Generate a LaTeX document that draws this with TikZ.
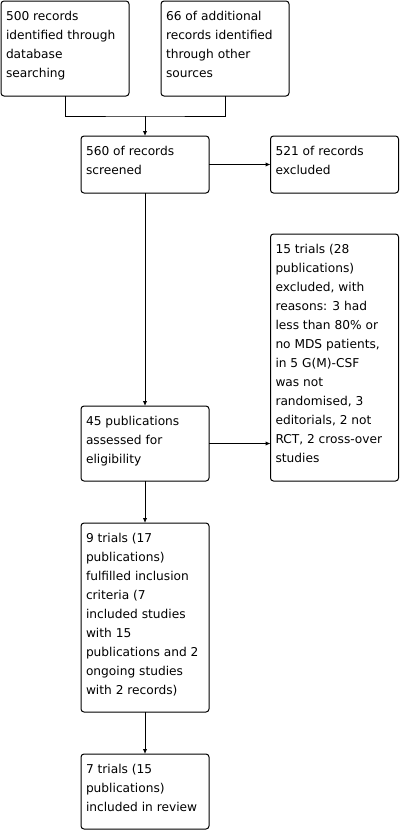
\documentclass[tikz,border=0pt]{standalone}
\usepackage{fontspec}
\setmainfont{DejaVu Sans}
\usetikzlibrary{arrows.meta}
\newcommand\bxtext[2]{\parbox[t][#1][t]{118pt}{\raggedright\fontsize{12.2}{19}\selectfont\rule{0pt}{19pt}#2}}
\begin{document}
\begin{tikzpicture}[x=1pt,y=-1pt,
  flowbox/.style={draw=black,line width=1pt,rounded corners=3pt,anchor=north west,
    inner xsep=5pt,inner ysep=0pt,outer sep=0pt,fill=white},
  conn/.style={draw=black,line width=1pt},
  arr/.style={conn,-{Latex[length=5pt,width=4.5pt]}}]
\useasboundingbox (0,0) rectangle (402,830);
\node[flowbox] (A) at (1,1) {\bxtext{95pt}{500 records\\identified through\\database\\searching}};
\node[flowbox] (B) at (161,1) {\bxtext{95pt}{66 of additional\\records identified\\through other\\sources}};
\node[flowbox] (C) at (81,136) {\bxtext{57pt}{560 of records\\screened}};
\node[flowbox] (D) at (270.5,136) {\bxtext{57pt}{521 of records\\excluded}};
\node[flowbox] (E) at (270.5,234) {\bxtext{247pt}{15 trials (28\\publications)\\excluded, with\\reasons: 3 had\\less than 80\% or\\no MDS patients,\\in 5 G(M)-CSF\\was not\\randomised, 3\\editorials, 2 not\\RCT, 2 cross-over\\studies}};
\node[flowbox] (F) at (81,406) {\bxtext{75pt}{45 publications\\assessed for\\eligibility}};
\node[flowbox] (G) at (81,523) {\bxtext{189pt}{9 trials (17\\publications)\\fulfilled inclusion\\criteria (7\\included studies\\with 15\\publications and 2\\ongoing studies\\with 2 records)}};
\node[flowbox] (H) at (81,754) {\bxtext{75pt}{7 trials (15\\publications)\\included in review}};
\coordinate (M) at (C.north |- 0,116);
\draw[conn] (A.south) |- (M) -| (B.south);
\draw[arr] (M) -- (C.north);
\draw[arr] (C.east) -- (D.west);
\draw[arr] (C.south) -- (F.north);
\draw[arr] (F.east) -- (F.east -| E.west);
\draw[arr] (F.south) -- (G.north);
\draw[arr] (G.south) -- (H.north);
\end{tikzpicture}
\end{document}
